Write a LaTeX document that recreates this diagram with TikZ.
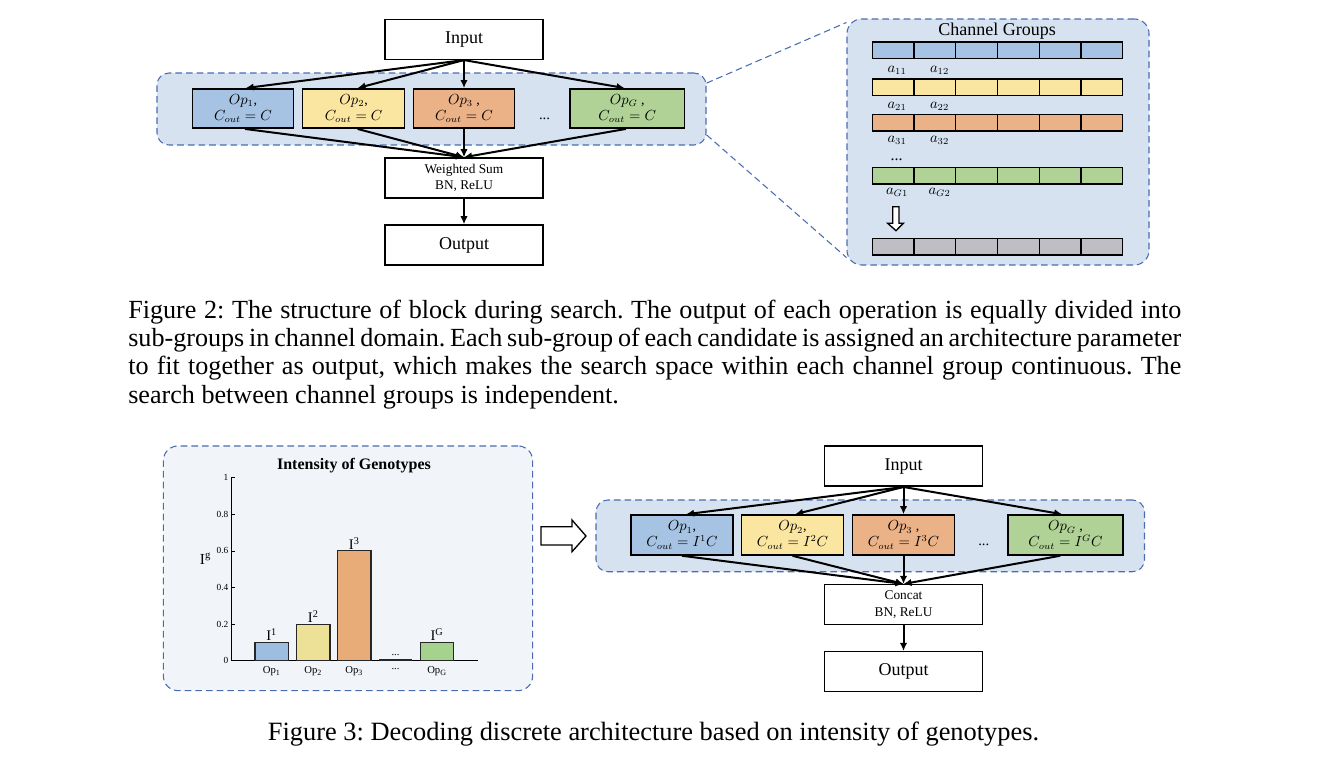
\documentclass[tikz,border=0pt]{standalone}
\usepackage{fontspec}
\setmainfont{Liberation Serif}
\usetikzlibrary{arrows.meta}
\definecolor{opblue}{RGB}{166,195,228}
\definecolor{opyellow}{RGB}{250,230,160}
\definecolor{oporange}{RGB}{235,178,136}
\definecolor{opgreen}{RGB}{176,210,150}
\definecolor{cellgray}{RGB}{190,190,196}
\definecolor{panelfill}{RGB}{214,226,240}
\definecolor{chartfill}{RGB}{241,245,250}
\definecolor{dashblue}{RGB}{74,108,180}
\definecolor{barblue}{RGB}{155,190,225}
\definecolor{baryellow}{RGB}{237,225,152}
\definecolor{barorange}{RGB}{232,172,120}
\definecolor{bargreen}{RGB}{165,210,140}
\frenchspacing
\newcommand{\capline}[1]{\hbox to 789.75pt{#1}}
\begin{document}
\begin{tikzpicture}[x=0.75pt,y=-0.75pt,
  box/.style={draw=black,line width=1.15pt,inner sep=0pt,align=center},
  bigbox/.style={box,fill=white,minimum width=118.5pt,minimum height=30pt,font=\fontsize{13.5}{16}\selectfont},
  smallbox/.style={box,fill=white,minimum width=118.5pt,minimum height=30pt,font=\fontsize{10}{12.5}\selectfont},
  opbox/.style={box,minimum height=29.5pt,font=\fontsize{10.5}{12}\selectfont},
  arr/.style={-{Latex[length=6pt,width=5.5pt]},line width=1.5pt},
  dashbox/.style={draw=dashblue,dash pattern=on 5pt off 3pt,line width=0.8pt,rounded corners=9pt,inner sep=0pt},
  zoomline/.style={draw=dashblue,dash pattern=on 5pt off 3pt,line width=0.8pt},
  cell/.style={draw=black,line width=1pt},
  lab/.style={font=\fontsize{10.5}{12}\selectfont,inner sep=0pt},
  hollow/.style={draw=black,line width=1pt,fill=white,line join=miter},
  bar/.style={draw=black!85,line width=0.8pt},
  tick/.style={font=\fontsize{7}{8}\selectfont,inner sep=1pt},
  oplab/.style={font=\fontsize{8}{9}\selectfont,inner sep=0pt},
  barlab/.style={font=\fontsize{11}{12}\selectfont,inner sep=1pt,anchor=south}]
\fill[white] (0,0) rectangle (1318,772);
\useasboundingbox (0,0) rectangle (1318,772);

% ---------------- Figure 2 : left block ----------------
\node[dashbox,fill=panelfill,minimum width=411.75pt,minimum height=54pt] (c1) at (431.5,109) {};
\node[bigbox] (in1) at (464,39.3) {Input};
\node[opbox,fill=opblue,minimum width=75.75pt] (op1) at (243,108.5) {$Op_1$,\\ $C_{out}=C$};
\node[opbox,fill=opyellow,minimum width=76.5pt] (op2) at (353.6,108.5) {$Op_2$,\\ $C_{out}=C$};
\node[opbox,fill=oporange,minimum width=75.75pt] (op3) at (464,108.5) {$Op_3$ ,\\ $C_{out}=C$};
\node[opbox,fill=opgreen,minimum width=85.9pt] (opG) at (627.2,108.5) {$Op_G$ ,\\ $C_{out}=C$};
\node[font=\fontsize{11}{12}\selectfont,inner sep=0pt] (dots1) at (544.5,118.5) {...};
\node[smallbox] (ws) at (464,178) {Weighted Sum\\BN, ReLU};
\node[bigbox] (out1) at (464,245) {Output};
\draw[arr] (in1.south) -- ([xshift=2pt]op1.north);
\draw[arr] (in1.south) -- ([xshift=3pt]op2.north);
\draw[arr] (in1.south) -- (op3.north);
\draw[arr] (in1.south) -- ([xshift=-2pt]opG.north);
\draw[arr] ([xshift=1.5pt]op1.south) -- (ws.north);
\draw[arr] ([xshift=3pt]op2.south) -- (ws.north);
\draw[arr] (op3.south) -- (ws.north);
\draw[arr] ([xshift=-1pt]opG.south) -- (ws.north);
\draw[arr] (ws.south) -- (out1.north);

% ---------------- Figure 2 : channel groups ----------------
\node[dashbox,rounded corners=11pt,fill=panelfill,minimum width=226.5pt,minimum height=184.5pt] (rp) at (998,142) {};
\draw[zoomline] ([yshift=-8pt]c1.north east) -- ([yshift=-3pt]rp.north west);
\draw[zoomline] ([yshift=8pt]c1.south east) -- ([yshift=6pt]rp.south west);
\node[font=\fontsize{13.5}{16}\selectfont,inner sep=0pt] (cgt) at (997,31) {Channel Groups};
\foreach \ty/\col in {42/opblue,79/opyellow,114.5/oporange,167.5/opgreen,238.5/cellgray}{
  \foreach \k in {0,...,5}{
    \draw[cell,fill=\col] (872.3+\k*41.73,\ty) rectangle (872.3+\k*41.73+41.73,\ty+16.5);
  }
}
\node[lab] (a11) at (897,70) {$a_{11}$};
\node[lab] (a12) at (939.5,70) {$a_{12}$};
\node[lab] (a21) at (897,106.5) {$a_{21}$};
\node[lab] (a22) at (939.5,106.5) {$a_{22}$};
\node[lab] (a31) at (897,140.5) {$a_{31}$};
\node[lab] (a32) at (939.5,140.5) {$a_{32}$};
\node[lab,font=\fontsize{12}{12}\selectfont] (vdots) at (896.5,159.5) {...};
\node[lab] (aG1) at (897,192.5) {$a_{G1}$};
\node[lab] (aG2) at (939.5,192.5) {$a_{G2}$};
\draw[hollow] (892.7,206.7) -- (899,206.7) -- (899,223.3) -- (903.3,223.3) -- (896,230.7) -- (887.7,223.3) -- (892.7,223.3) -- cycle;

% ---------------- Figure 2 caption ----------------
\node[anchor=base west,inner sep=0pt,font=\fontsize{19.6}{21.3}\selectfont] (cap2) at (128,318)
{\vtop{\capline{Figure 2: The structure of block during search. The output of each operation is equally divided into}
\capline{sub-groups in channel domain. Each sub-group of each candidate is assigned an architecture parameter}
\capline{to fit together as output, which makes the search space within each channel group continuous. The}
\hbox{search between channel groups is independent.}}};

% ---------------- Figure 3 : chart ----------------
\node[dashbox,rounded corners=11pt,fill=chartfill,minimum width=277pt,minimum height=183.5pt] (cp) at (348,568.3) {};
\node[font=\bfseries\fontsize{12}{14}\selectfont,inner sep=0pt] (ctitle) at (354,466) {Intensity of Genotypes};
\draw[line width=0.8pt] (231.3,477.7) -- (231.3,660.7) -- (478.3,660.7);
\foreach \v/\t in {0/0,0.2/0.2,0.4/0.4,0.6/0.6,0.8/0.8,1/1}{
  \draw[line width=0.6pt] (231.3,660.7-183*\v) -- (234.8,660.7-183*\v);
  \node[tick,anchor=east] at (230,660.7-183*\v) {\t};
}
\node[font=\fontsize{11.5}{12}\selectfont,inner sep=0pt] (ylab) at (205.5,559) {I\textsuperscript{g}};
\draw[bar,fill=barblue]   (255,660.7) rectangle (288.3,642.4);
\draw[bar,fill=baryellow] (296.7,660.7) rectangle (330,624.1);
\draw[bar,fill=barorange] (337.7,660.7) rectangle (371,550.9);
\draw[bar,line width=1.2pt] (379,660.2) -- (412,660.2);
\draw[bar,fill=bargreen]  (420.7,660.7) rectangle (453.3,642.4);
\node[barlab] at (271.7,642.4) {I\textsuperscript{1}};
\node[barlab] at (313.3,624.1) {I\textsuperscript{2}};
\node[barlab] at (354.3,550.9) {I\textsuperscript{3}};
\node[barlab,font=\fontsize{8}{9}\selectfont] at (395.5,657) {...};
\node[barlab] at (437,642.4) {I\textsuperscript{G}};
\node[oplab] at (271.7,671) {Op\textsubscript{1}};
\node[oplab] at (313.3,671) {Op\textsubscript{2}};
\node[oplab] at (354.3,671) {Op\textsubscript{3}};
\node[oplab] at (395.5,669) {...};
\node[oplab] at (437,671) {Op\textsubscript{G}};

\draw[hollow] (541,526.7) -- (572,526.7) -- (572,520) -- (586,536) -- (572,551.7) -- (572,545) -- (541,545) -- cycle;

% ---------------- Figure 3 : decoded block ----------------
\node[dashbox,fill=panelfill,minimum width=411.4pt,minimum height=53.8pt] (c2) at (870.25,535.85) {};
\node[bigbox] (in2) at (903.5,466.2) {Input};
\node[opbox,fill=opblue,minimum width=76.5pt,minimum height=30pt] (p1) at (682,535) {$Op_1$,\\ $C_{out}=I^1C$};
\node[opbox,fill=opyellow,minimum width=76.5pt,minimum height=30pt] (p2) at (792.5,535) {$Op_2$,\\ $C_{out}=I^2C$};
\node[opbox,fill=oporange,minimum width=76.5pt,minimum height=30pt] (p3) at (903.5,535) {$Op_3$ ,\\ $C_{out}=I^3C$};
\node[opbox,fill=opgreen,minimum width=86.25pt,minimum height=30pt] (pG) at (1065.5,535) {$Op_G$ ,\\ $C_{out}=I^GC$};
\node[font=\fontsize{11}{12}\selectfont,inner sep=0pt] (dots2) at (983.8,544.5) {...};
\node[smallbox] (cc) at (903.5,604.7) {Concat\\BN, ReLU};
\node[bigbox] (out2) at (903.5,671.7) {Output};
\draw[arr] (in2.south) -- ([xshift=3pt]p1.north);
\draw[arr] (in2.south) -- ([xshift=2pt]p2.north);
\draw[arr] (in2.south) -- (p3.north);
\draw[arr] (in2.south) -- ([xshift=-2.5pt]pG.north);
\draw[arr] (p1.south) -- (cc.north);
\draw[arr] (p2.south) -- (cc.north);
\draw[arr] (p3.south) -- (cc.north);
\draw[arr] ([xshift=-4pt]pG.south) -- (cc.north);
\draw[arr] (cc.south) -- (out2.north);

\node[anchor=base,inner sep=0pt,font=\fontsize{19.8}{21.3}\selectfont] (cap3) at (653.5,740)
{Figure 3: Decoding discrete architecture based on intensity of genotypes.};
\end{tikzpicture}
\end{document}
